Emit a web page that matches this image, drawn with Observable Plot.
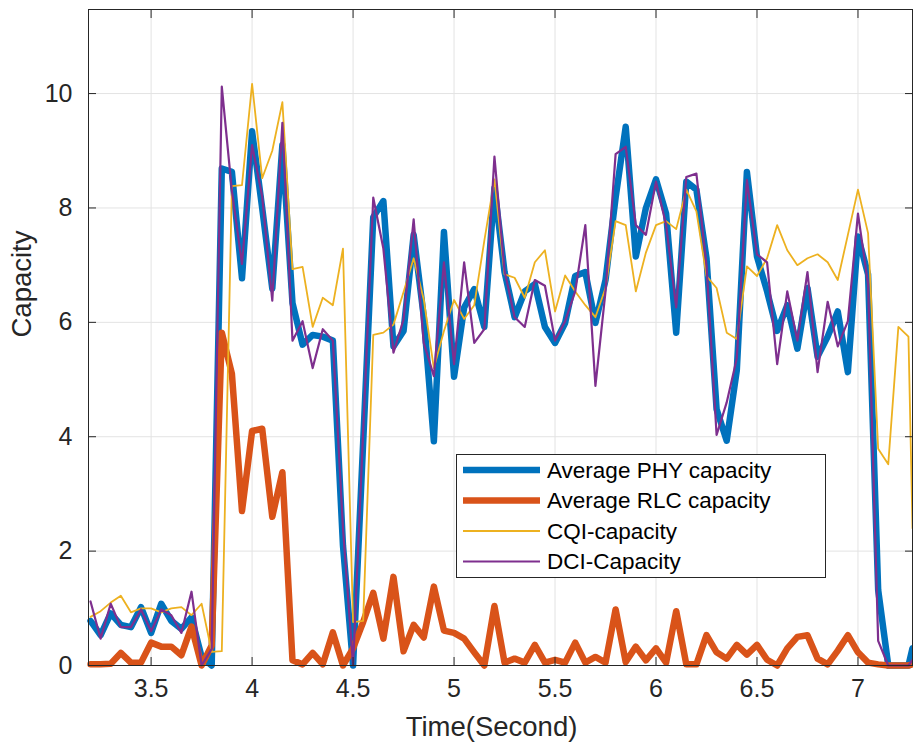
<!DOCTYPE html>
<html>
<head>
<meta charset="utf-8">
<script src="https://cdn.jsdelivr.net/npm/d3@7"></script>
<script src="https://cdn.jsdelivr.net/npm/@observablehq/plot@0.6"></script>
<style>
  html, body { margin: 0; padding: 0; background: #fff; }
  #chart { width: 913px; height: 745px; }
</style>
</head>
<body>
<div id="chart"></div>
<script>
// ---- data ----
const time = [3.20,3.25,3.30,3.35,3.40,3.45,3.50,3.55,3.60,3.65,3.70,3.75,3.80,3.85,3.90,3.95,
  4.00,4.05,4.10,4.15,4.20,4.25,4.30,4.35,4.40,4.45,4.50,4.55,4.60,4.65,4.70,4.75,4.80,4.85,4.90,4.95,
  5.00,5.05,5.10,5.15,5.20,5.25,5.30,5.35,5.40,5.45,5.50,5.55,5.60,5.65,5.70,5.75,5.80,5.85,5.90,5.95,
  6.00,6.05,6.10,6.15,6.20,6.25,6.30,6.35,6.40,6.45,6.50,6.55,6.60,6.65,6.70,6.75,6.80,6.85,6.90,6.95,
  7.00,7.05,7.10,7.15,7.20,7.25,7.27];

const phyCapacity = [0.78,0.53,0.91,0.71,0.67,1.02,0.57,1.08,0.78,0.64,0.84,0.15,0.00,8.69,8.63,6.77,
  9.34,8.00,6.59,9.10,6.34,5.61,5.78,5.75,5.68,2.10,0.00,3.90,7.84,8.12,5.58,5.85,7.53,6.10,3.92,7.58,
  5.05,6.26,6.58,5.92,8.35,6.88,6.09,6.54,6.67,5.92,5.64,5.99,6.81,6.88,5.99,6.74,8.18,9.42,7.15,8.00,
  8.50,7.90,5.82,8.46,8.32,7.12,4.48,3.93,5.16,8.63,7.15,6.54,5.85,6.30,5.54,6.60,5.40,5.75,6.19,5.13,
  7.50,6.84,1.32,0.00,0.00,0.00,0.30];

const rlcCapacity = [0.02,0.02,0.03,0.22,0.05,0.05,0.40,0.33,0.33,0.18,0.68,0.00,0.35,5.82,5.10,2.70,
  4.10,4.14,2.60,3.38,0.09,0.02,0.22,0.02,0.58,0.00,0.30,0.76,1.27,0.47,1.55,0.25,0.71,0.49,1.38,0.61,
  0.57,0.47,0.23,0.00,1.04,0.05,0.12,0.05,0.36,0.05,0.10,0.05,0.40,0.05,0.15,0.05,0.98,0.06,0.33,0.09,
  0.30,0.05,0.95,0.02,0.02,0.53,0.23,0.12,0.36,0.19,0.36,0.10,0.00,0.30,0.50,0.53,0.12,0.02,0.26,0.53,
  0.23,0.05,0.02,0.00,0.00,0.00,0.02];

const cqiCapacity = [0.85,0.95,1.10,1.22,0.93,1.00,1.00,0.93,1.00,1.02,0.88,1.08,0.24,0.25,8.38,8.40,
  10.17,8.52,9.00,9.85,6.93,6.97,5.92,6.43,6.30,7.29,0.76,0.78,5.78,5.82,5.96,6.53,7.12,6.40,5.20,5.85,
  6.39,6.06,6.30,7.43,8.50,6.84,6.78,6.43,7.05,7.26,6.19,6.82,6.54,6.30,6.09,6.60,7.77,7.70,6.54,7.22,
  7.70,7.77,7.63,8.32,7.94,6.81,6.60,5.82,5.71,6.98,6.81,7.12,7.70,7.26,7.00,7.12,7.19,7.05,6.74,7.53,
  8.32,7.56,3.79,3.52,5.92,5.75,2.40];

const dciCapacity = [1.12,0.47,1.08,0.67,0.67,0.98,0.60,0.98,0.88,0.57,1.29,0.00,0.29,10.12,8.30,7.02,
  9.10,8.20,6.38,9.49,5.68,6.02,5.20,5.88,5.68,2.40,0.00,4.10,8.18,7.29,5.47,6.05,7.80,5.64,5.06,7.05,
  5.27,7.05,5.64,5.88,8.90,6.90,6.09,5.92,6.74,6.64,5.68,6.02,6.54,7.70,4.89,6.54,8.94,9.07,7.70,7.53,
  8.46,7.70,6.26,8.54,8.60,7.00,4.03,4.60,5.37,8.49,7.19,7.05,5.27,6.54,5.68,6.88,5.13,6.36,5.58,6.02,
  7.90,6.67,0.43,0.00,0.00,0.00,0.10];

const seriesNames = ["Average PHY capacity", "Average RLC capacity", "CQI-capacity", "DCI-Capacity"];
const xTicks = [3.5, 4, 4.5, 5, 5.5, 6, 6.5, 7];
const yTicks = [0, 2, 4, 6, 8, 10];
const xLabel = "Time(Second)";
const yLabel = "Capacity";

// ---- styles ----
const colors = ["#0072BD", "#D95319", "#EDB120", "#7E2F8E"];
const widths = [6.5, 6.5, 1.8, 2.2];
const values = [phyCapacity, rlcCapacity, cqiCapacity, dciCapacity];
const series = values.map((vals, k) => time.map((t, i) => ({t, v: vals[i]})));

const axisColor = "#262626";
const gridColor = "#e3e3e3";
const font = "'Liberation Sans', Arial, Helvetica, sans-serif";

const chart = Plot.plot({
  width: 913,
  height: 745,
  marginLeft: 88,
  marginRight: 1,
  marginTop: 9,
  marginBottom: 80,
  style: {fontFamily: font, background: "#fff", overflow: "visible"},
  x: {domain: [3.19, 7.27]},
  y: {domain: [0, 11.47]},
  marks: [
    Plot.gridX(xTicks, {stroke: gridColor, strokeOpacity: 1, strokeWidth: 1}),
    Plot.gridY(yTicks, {stroke: gridColor, strokeOpacity: 1, strokeWidth: 1}),
    ...series.map((d, k) => Plot.lineY(d, {
      x: "t", y: "v",
      stroke: colors[k], strokeWidth: widths[k],
      strokeLinejoin: "round", strokeLinecap: "round"
    })),
    Plot.frame({stroke: axisColor, strokeWidth: 1}),
    // inward ticks on all four sides
    Plot.axisX(xTicks, {anchor: "bottom", tickSize: -8, tickFormat: () => "", label: null, stroke: axisColor}),
    Plot.axisX(xTicks, {anchor: "top", tickSize: -8, tickFormat: () => "", label: null, stroke: axisColor}),
    Plot.axisY(yTicks, {anchor: "left", tickSize: -8, tickFormat: () => "", label: null, stroke: axisColor}),
    Plot.axisY(yTicks, {anchor: "right", tickSize: -8, tickFormat: () => "", label: null, stroke: axisColor}),
    // tick labels
    Plot.text(xTicks, {x: d => d, frameAnchor: "bottom", dy: 23, text: d => String(d),
      fontSize: 25, fill: axisColor, lineAnchor: "middle"}),
    Plot.text(yTicks, {y: d => d, frameAnchor: "left", dx: -16, text: d => String(d),
      fontSize: 25, fill: axisColor, textAnchor: "end", lineAnchor: "middle"}),
    // axis titles
    Plot.text([xLabel], {frameAnchor: "bottom", dy: 62, dx: -9, text: d => d,
      fontSize: 27.5, fill: axisColor, lineAnchor: "middle"}),
    Plot.text([yLabel], {frameAnchor: "left", dx: -66, text: d => d, rotate: -90,
      fontSize: 27.5, fill: axisColor, lineAnchor: "middle"})
  ]
});

// ---- legend inside the axes (MATLAB style box) ----
const svg = d3.select(chart);
const lg = svg.append("g").attr("font-family", font).attr("text-anchor", "start");
const box = {x: 456.5, y: 454.5, w: 369, h: 123};
lg.append("rect").attr("x", box.x).attr("y", box.y).attr("width", box.w).attr("height", box.h)
  .attr("fill", "#fff").attr("stroke", "#262626").attr("stroke-width", 1);
seriesNames.forEach((name, k) => {
  const cy = 470 + k * 30.5;
  lg.append("line").attr("x1", 463).attr("x2", 540).attr("y1", cy).attr("y2", cy)
    .attr("stroke", colors[k]).attr("stroke-width", widths[k]);
  lg.append("text").attr("x", 547).attr("y", cy).attr("dy", "0.35em")
    .attr("text-anchor", "start")
    .attr("font-size", 22.5).attr("fill", "#000").text(name);
});

document.getElementById("chart").appendChild(chart);
</script>
</body>
</html>
